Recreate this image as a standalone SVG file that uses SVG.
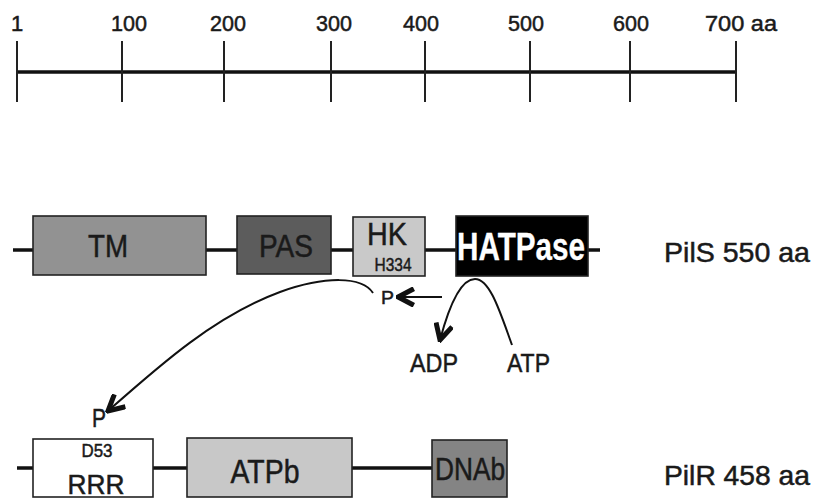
<svg xmlns="http://www.w3.org/2000/svg" width="814" height="500" viewBox="0 0 814 500">
<style>
  text { font-family: "Liberation Sans", Arial, sans-serif; fill: #1a1a1a; stroke: #1a1a1a; stroke-width: 0.5; }
  .box { stroke: #222; stroke-width: 1.6; }
  .bb { stroke: #111; stroke-width: 3.5; fill: none; }
  .tick { stroke: #222; stroke-width: 2; }
  .num { font-size: 22px; }
  .mid { text-anchor: middle; }
  .side { font-size: 28px; }
  .conn { fill: none; stroke: #111; stroke-width: 2; }
</style>
<defs>
  <marker id="chev" viewBox="0 0 12 12" refX="10.5" refY="6" markerWidth="20" markerHeight="20" markerUnits="userSpaceOnUse" orient="auto">
    <path d="M1,1 L10.5,6 L1,11" fill="none" stroke="#111" stroke-width="3" stroke-linejoin="miter"/>
  </marker>
</defs>
<rect width="814" height="500" fill="#fff"/>

<g id="ruler">
  <line class="bb" x1="17" y1="72" x2="736" y2="72" stroke-width="4"/>
  <line class="tick" x1="17" y1="41" x2="17" y2="102"/>
  <line class="tick" x1="122" y1="41" x2="122" y2="102"/>
  <line class="tick" x1="224" y1="41" x2="224" y2="102"/>
  <line class="tick" x1="331" y1="41" x2="331" y2="102"/>
  <line class="tick" x1="425" y1="41" x2="425" y2="102"/>
  <line class="tick" x1="530" y1="41" x2="530" y2="102"/>
  <line class="tick" x1="630" y1="41" x2="630" y2="102"/>
  <line class="tick" x1="736" y1="41" x2="736" y2="102"/>
  <text class="num" x="11" y="31">1</text>
  <text class="num" x="111" y="31" textLength="36" lengthAdjust="spacingAndGlyphs">100</text>
  <text class="num" x="210" y="31" textLength="36" lengthAdjust="spacingAndGlyphs">200</text>
  <text class="num" x="316" y="31" textLength="36" lengthAdjust="spacingAndGlyphs">300</text>
  <text class="num" x="403" y="31" textLength="36" lengthAdjust="spacingAndGlyphs">400</text>
  <text class="num" x="508" y="31" textLength="36" lengthAdjust="spacingAndGlyphs">500</text>
  <text class="num" x="613" y="31" textLength="36" lengthAdjust="spacingAndGlyphs">600</text>
  <text class="num" x="705" y="31" textLength="72" lengthAdjust="spacingAndGlyphs">700 aa</text>
</g>

<g id="pils-backbone">
  <line class="bb" x1="13" y1="250" x2="600" y2="250"/>
</g>
<g id="TM">
  <rect class="box" x="33" y="216" width="173" height="59" fill="#929292"/>
  <text class="mid" x="108" y="257" font-size="32" textLength="40" lengthAdjust="spacingAndGlyphs">TM</text>
</g>
<g id="PAS">
  <rect class="box" x="237" y="216" width="94" height="58" fill="#5c5c5c"/>
  <text class="mid" x="286" y="257" font-size="31" textLength="54" lengthAdjust="spacingAndGlyphs">PAS</text>
</g>
<g id="HK">
  <rect class="box" x="353" y="217" width="72" height="59" fill="#c9c9c9"/>
  <text class="mid" x="387" y="245" font-size="31" textLength="40" lengthAdjust="spacingAndGlyphs">HK</text>
  <text class="mid" x="393" y="271" font-size="19" textLength="37" lengthAdjust="spacingAndGlyphs">H334</text>
</g>
<g id="HATPase">
  <rect class="box" x="456" y="216" width="132" height="60" fill="#000"/>
  <text class="mid" x="521" y="260" font-size="38" font-weight="bold" textLength="128" lengthAdjust="spacingAndGlyphs" style="fill:#fff;stroke:#fff;stroke-width:0.3">HATPase</text>
</g>
<g id="PilS-label">
  <text class="side" x="664" y="262" textLength="146" lengthAdjust="spacingAndGlyphs">PilS 550 aa</text>
</g>

<g id="P-HK">
  <text x="381" y="304" font-size="19" textLength="13" lengthAdjust="spacingAndGlyphs">P</text>
</g>
<g id="ADP">
  <text x="410" y="372" font-size="26" textLength="48" lengthAdjust="spacingAndGlyphs">ADP</text>
</g>
<g id="ATP">
  <text x="507" y="372" font-size="26" textLength="43" lengthAdjust="spacingAndGlyphs">ATP</text>
</g>

<g id="pilr-backbone">
  <line class="bb" x1="17" y1="468" x2="432" y2="468"/>
</g>
<g id="RRR">
  <rect class="box" x="33" y="439" width="120" height="58" fill="#fff"/>
  <text class="mid" x="97" y="457" font-size="19" textLength="31" lengthAdjust="spacingAndGlyphs">D53</text>
  <text class="mid" x="96" y="494" font-size="27" textLength="57" lengthAdjust="spacingAndGlyphs">RRR</text>
</g>
<g id="P-RRR">
  <text x="92" y="427" font-size="25" textLength="14" lengthAdjust="spacingAndGlyphs">P</text>
</g>
<g id="ATPb">
  <rect class="box" x="187" y="438" width="165" height="59" fill="#c8c8c8"/>
  <text class="mid" x="265" y="483" font-size="33" textLength="69" lengthAdjust="spacingAndGlyphs">ATPb</text>
</g>
<g id="DNAb">
  <rect class="box" x="432" y="440" width="75" height="57" fill="#848484"/>
  <text class="mid" x="470" y="480" font-size="31" textLength="70" lengthAdjust="spacingAndGlyphs">DNAb</text>
</g>
<g id="PilR-label">
  <text class="side" x="664" y="485" textLength="146" lengthAdjust="spacingAndGlyphs">PilR 458 aa</text>
</g>

<g id="connectors">
  <line class="conn" x1="442" y1="297" x2="398" y2="297" stroke-width="2.5" marker-end="url(#chev)"/>
  <path class="conn" d="M512,345 C500,312 490,279 475,279 C460,279 448,310 440,340" marker-end="url(#chev)"/>
  <path class="conn" d="M373,293 C362,276 325,276 280,292 C215,316 160,365 108,411" marker-end="url(#chev)"/>
</g>
</svg>
